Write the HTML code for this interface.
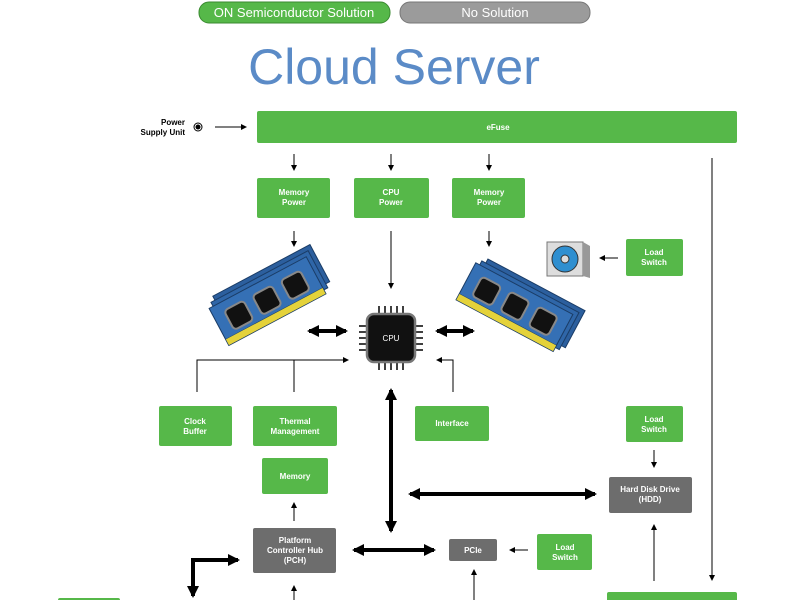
<!DOCTYPE html>
<html><head><meta charset="utf-8"><style>
html,body{margin:0;padding:0;background:#fff;width:800px;height:600px;overflow:hidden}
svg text{font-family:"Liberation Sans",sans-serif}
.t{font-size:8px;font-weight:bold;fill:#fff;text-anchor:middle}
</style></head><body>
<svg width="800" height="600" viewBox="0 0 800 600" xmlns="http://www.w3.org/2000/svg">
<defs>
<marker id="a" markerWidth="6" markerHeight="6" refX="5" refY="3" orient="auto" markerUnits="userSpaceOnUse"><path d="M0,0 L6,3 L0,6 z" fill="#000"/></marker>
<marker id="b" markerWidth="12" markerHeight="12" refX="10" refY="6" orient="auto-start-reverse" markerUnits="userSpaceOnUse"><path d="M0,0 L12,6 L0,12 z" fill="#000"/></marker>
<g id="mod">
<rect x="-55" y="-22" width="110" height="42" fill="#2c5f9e" stroke="#1a3c66" transform="translate(9,-9)"/>
<rect x="-55" y="-22" width="110" height="42" fill="#2f66a8" stroke="#1a3c66" transform="translate(4.5,-4.5)"/>
<rect x="-55" y="-22" width="110" height="42" fill="#3570b5" stroke="#1a3c66"/>
<rect x="-55" y="13" width="110" height="7" fill="#e4d23a" stroke="#1a3c66" stroke-width=".5"/>
<rect x="-43" y="-13" width="22" height="22" rx="4" fill="#111" stroke="#888" stroke-width="2"/>
<rect x="-11" y="-13" width="22" height="22" rx="4" fill="#111" stroke="#888" stroke-width="2"/>
<rect x="21" y="-13" width="22" height="22" rx="4" fill="#111" stroke="#888" stroke-width="2"/>
</g>
</defs>
<rect x="199" y="2" width="191" height="21" rx="10" fill="#56b849" stroke="#3a8a30"/>
<text x="294" y="17" font-size="13" fill="#fff" text-anchor="middle">ON Semiconductor Solution</text>
<rect x="400" y="2" width="190" height="21" rx="10" fill="#9b9b9b" stroke="#777"/>
<text x="495" y="17" font-size="13" fill="#fff" text-anchor="middle">No Solution</text>
<text x="394" y="84" font-size="50" fill="#5b8bc7" text-anchor="middle">Cloud Server</text>

<text x="185" y="125" font-size="8" font-weight="bold" text-anchor="end">Power</text>
<text x="185" y="135" font-size="8" font-weight="bold" text-anchor="end">Supply Unit</text>
<circle cx="198" cy="127" r="4" fill="#fff" stroke="#000"/><circle cx="198" cy="127" r="2.5" fill="#000"/>
<line x1="215" y1="127" x2="246" y2="127" stroke="#000" marker-end="url(#a)"/>
<rect x="257" y="111" width="480" height="32" rx="2" fill="#56b849"/>
<text x="498" y="130" class="t">eFuse</text>

<g stroke="#000" marker-end="url(#a)">
<line x1="294" y1="154" x2="294" y2="170"/><line x1="391" y1="154" x2="391" y2="170"/><line x1="489" y1="154" x2="489" y2="170"/>
<line x1="294" y1="231" x2="294" y2="246"/><line x1="391" y1="231" x2="391" y2="288"/><line x1="489" y1="231" x2="489" y2="246"/>
<line x1="618" y1="258" x2="600" y2="258"/>
<polyline points="197,392 197,360 348,360" fill="none"/>
<polyline points="453,392 453,360 437,360" fill="none"/>
<line x1="654" y1="450" x2="654" y2="467"/>
<line x1="654" y1="581" x2="654" y2="525"/>
<line x1="712" y1="158" x2="712" y2="580"/>
<line x1="294" y1="521" x2="294" y2="503"/>
<line x1="528" y1="550" x2="510" y2="550"/>
<line x1="294" y1="600" x2="294" y2="586"/>
<line x1="474" y1="600" x2="474" y2="570"/>
</g>
<line x1="294" y1="360" x2="294" y2="392" stroke="#000"/>

<rect x="257" y="178" width="73" height="40" rx="2" fill="#56b849"/><text x="294" y="195" class="t">Memory</text><text x="294" y="205" class="t">Power</text>
<rect x="354" y="178" width="75" height="40" rx="2" fill="#56b849"/><text x="391" y="195" class="t">CPU</text><text x="391" y="205" class="t">Power</text>
<rect x="452" y="178" width="73" height="40" rx="2" fill="#56b849"/><text x="489" y="195" class="t">Memory</text><text x="489" y="205" class="t">Power</text>

<use href="#mod" transform="translate(268,302) rotate(-28)"/>
<use href="#mod" transform="translate(514,308) rotate(28)"/>

<g stroke="#000" stroke-width="1.5">
<g id="pins"><line x1="379" y1="306" x2="379" y2="316"/><line x1="385" y1="306" x2="385" y2="316"/><line x1="391" y1="306" x2="391" y2="316"/><line x1="397" y1="306" x2="397" y2="316"/><line x1="403" y1="306" x2="403" y2="316"/></g>
<use href="#pins" transform="translate(0,54)"/>
<use href="#pins" transform="rotate(90 391 338)"/>
<use href="#pins" transform="rotate(90 391 338) translate(0,54)"/>
</g>
<rect x="367" y="314" width="48" height="48" rx="7" fill="#111" stroke="#777" stroke-width="2.5"/>
<text x="391" y="341" font-size="8" fill="#fff" text-anchor="middle">CPU</text>

<g stroke="#000" stroke-width="4" marker-start="url(#b)" marker-end="url(#b)">
<line x1="309" y1="331" x2="346" y2="331"/>
<line x1="437" y1="331" x2="473" y2="331"/>
<line x1="391" y1="390" x2="391" y2="531"/>
<line x1="410" y1="494" x2="595" y2="494"/>
<line x1="354" y1="550" x2="434" y2="550"/>
</g>
<polyline points="193,596 193,560 238,560" fill="none" stroke="#000" stroke-width="4" marker-start="url(#b)" marker-end="url(#b)"/>

<rect x="547" y="242" width="36" height="34" fill="#ddd" stroke="#777"/><polygon points="583,242 590,246 590,278 583,276" fill="#999"/>
<circle cx="565" cy="259" r="13" fill="#2f8fd0" stroke="#333"/><circle cx="565" cy="259" r="4" fill="#ddd" stroke="#333"/>
<rect x="626" y="239" width="57" height="37" rx="2" fill="#56b849"/><text x="654" y="255" class="t">Load</text><text x="654" y="265" class="t">Switch</text>

<rect x="159" y="406" width="73" height="40" rx="2" fill="#56b849"/><text x="195" y="424" class="t">Clock</text><text x="195" y="434" class="t">Buffer</text>
<rect x="253" y="406" width="84" height="40" rx="2" fill="#56b849"/><text x="295" y="424" class="t">Thermal</text><text x="295" y="434" class="t">Management</text>
<rect x="415" y="406" width="74" height="35" rx="2" fill="#56b849"/><text x="452" y="426" class="t">Interface</text>
<rect x="626" y="406" width="57" height="36" rx="2" fill="#56b849"/><text x="654" y="422" class="t">Load</text><text x="654" y="432" class="t">Switch</text>
<rect x="262" y="458" width="66" height="36" rx="2" fill="#56b849"/><text x="295" y="479" class="t">Memory</text>
<rect x="609" y="477" width="83" height="36" rx="2" fill="#6d6d6d"/><text x="650" y="492" class="t">Hard Disk Drive</text><text x="650" y="502" class="t">(HDD)</text>
<rect x="253" y="528" width="83" height="45" rx="2" fill="#6d6d6d"/><text x="295" y="543" class="t">Platform</text><text x="295" y="553" class="t">Controller Hub</text><text x="295" y="563" class="t">(PCH)</text>
<rect x="449" y="539" width="48" height="22" rx="2" fill="#6d6d6d"/><text x="473" y="553" class="t">PCIe</text>
<rect x="537" y="534" width="55" height="36" rx="2" fill="#56b849"/><text x="565" y="550" class="t">Load</text><text x="565" y="560" class="t">Switch</text>
<rect x="607" y="592" width="130" height="10" rx="2" fill="#56b849"/>
<rect x="58" y="598" width="62" height="6" rx="2" fill="#56b849"/>
</svg>
</body></html>
